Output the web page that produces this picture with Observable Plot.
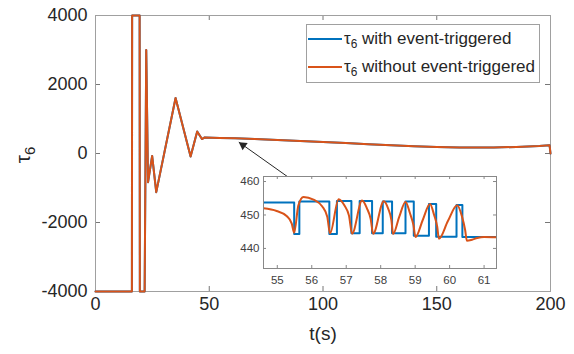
<!DOCTYPE html>
<html><head><meta charset="utf-8">
<script src="https://cdn.jsdelivr.net/npm/d3@7"></script>
<script src="https://cdn.jsdelivr.net/npm/@observablehq/plot@0.6"></script>
<style>
body{margin:0;background:#fff;}
#wrap{position:relative;width:574px;height:354px;font-family:"Liberation Sans",Arial,sans-serif;color:#262626;}
#wrap svg{position:absolute;left:0;top:0;}
.leg sub{font-size:70%;vertical-align:-0.35em;line-height:0;}
#legend{position:absolute;left:306px;top:24px;width:234px;height:59px;border:1px solid #a0a0a0;background:#fff;box-sizing:border-box;}
.leg{position:absolute;left:1px;height:20px;font-size:17px;white-space:nowrap;display:flex;align-items:center;}
.leg .sw{display:inline-block;width:34px;height:2px;margin-right:2px;}
</style></head><body><div id="wrap"><div id="legend"></div></div>
<script>
// Main plot (coarse) series: time (s) and tau6
const mainT = [0, 16.0, 16.1, 19.4, 19.5, 21.6, 22.3, 23.1, 24.9, 26.7, 35.2, 41.8, 44.7, 46.8, 48.0, 54.6, 61.4, 70, 80, 90, 100, 110, 120, 130, 140, 150, 160, 166, 175, 185, 195, 199.6, 200];
const mainV = [-4000, -4000, 4000, 4000, -4000, -4000, 3000, -830, -70, -1120, 1610, -90, 640, 420, 465, 452, 443, 418, 392, 363, 333, 302, 270, 240, 212, 192, 176, 172, 175, 190, 215, 238, 0];

// Inset: event-triggered (blue, held values)
const blueT = [54.6, 55.49, 55.64, 56.51, 56.73, 57.15, 57.39, 57.75, 58.06, 58.33, 58.72, 58.96, 59.40, 59.61, 60.20, 60.37, 61.36];
const blueV = [453.7, 444.3, 454.0, 444.3, 454.2, 444.5, 454.2, 444.5, 454.0, 444.5, 454.0, 443.8, 453.3, 443.5, 453.0, 443.4, 443.4];

// Inset: without event-triggered (orange)
const orangeT = [54.6, 54.98, 55.27, 55.42, 55.49, 55.61, 55.76, 56.05, 56.30, 56.45, 56.53, 56.78, 56.95, 57.08, 57.17, 57.46, 57.60, 57.71, 57.78, 58.09, 58.22, 58.31, 58.36, 58.54, 58.72, 58.85, 58.95, 59.01, 59.22, 59.43, 59.55, 59.64, 59.69, 59.95, 60.22, 60.36, 60.45, 60.50, 60.65, 60.80, 61.0, 61.36];
const orangeV = [452.0, 451.2, 449.7, 447.4, 444.7, 452.8, 455.4, 454.6, 452.6, 449.5, 444.5, 454.7, 452.8, 449.8, 444.4, 454.3, 452.0, 448.8, 444.4, 454.1, 451.8, 448.5, 444.3, 449.5, 453.9, 450.5, 447.0, 443.4, 448.5, 453.3, 450.0, 446.5, 442.9, 448.2, 452.9, 449.5, 445.5, 442.3, 442.6, 443.1, 443.4, 443.3];

const xTicks = [0, 50, 100, 150, 200];
const yTicks = [-4000, -2000, 0, 2000, 4000];
const insetXTicks = [55, 56, 57, 58, 59, 60, 61];
const insetYTicks = [440, 450, 460];
const seriesNames = ["with event-triggered", "without event-triggered"];
const seriesColors = ["#0072BD", "#D95319"];
// annotation arrow: from inset to curve (t, tau6)
const arrowData = [{x1: 84.6, y1: -680, x2: 63.0, y2: 330}];

const mainData = mainT.map((t, i) => ({t, v: mainV[i]}));
const blueData = blueT.map((t, i) => ({t, v: blueV[i]}));
const orangeData = orangeT.map((t, i) => ({t, v: orangeV[i]}));

const frameColor = "#a0a0a0";
const W = 574, H = 354, mL = 95, mR = 24, mT = 15, mB = 63;
const pw = W - mL - mR, ph = H - mT - mB;

const main = Plot.plot({
  width: W, height: H, marginLeft: mL, marginRight: mR, marginTop: mT, marginBottom: mB,
  style: {background: "none", fontFamily: "'Liberation Sans', Arial, sans-serif", fontSize: "18px", color: "#262626", overflow: "visible"},
  x: {domain: [0, 200]},
  y: {domain: [-4000, 4000]},
  marks: [
    Plot.axisX({ticks: xTicks, tickSize: 0, tickPadding: 6, label: null, tickFormat: d => String(d)}),
    Plot.axisY({ticks: yTicks, tickSize: 0, tickPadding: 8, label: null, tickFormat: d => String(d)}),
    Plot.ruleX(xTicks, {stroke: "#777", insetTop: ph - 5}),
    Plot.ruleX(xTicks, {stroke: "#777", insetBottom: ph - 5}),
    Plot.ruleY(yTicks, {stroke: "#777", insetRight: pw - 5}),
    Plot.ruleY(yTicks, {stroke: "#777", insetLeft: pw - 5}),
    Plot.frame({stroke: frameColor}),
    Plot.line(mainData, {x: "t", y: "v", stroke: seriesColors[0], strokeWidth: 2}),
    Plot.line(mainData, {x: "t", y: "v", stroke: seriesColors[1], strokeWidth: 2}),
    Plot.link(arrowData, {x1: "x1", y1: "y1", x2: "x2", y2: "y2", stroke: "#262626", strokeWidth: 1}),
    Plot.dot(arrowData, {x: "x2", y: "y2", symbol: "triangle", r: 3.3, fill: "#262626", stroke: null, rotate: -55, dx: 4.2, dy: 3.0}),
    Plot.text(["t(s)"], {frameAnchor: "bottom", dy: 48, fontSize: 19, fill: "#262626"})
  ]
});

// rotated y label with subscript
const ylab = d3.select(main).append("text")
  .attr("transform", "translate(30,155) rotate(-90)")
  .attr("text-anchor", "middle")
  .attr("fill", "#262626")
  .attr("font-size", 21);
ylab.append("tspan").text("τ");
ylab.append("tspan").attr("font-size", 15).attr("dy", 5).text("6");

const iw = 233, ih = 92, imL = 30, imR = 8, imT = 6, imB = 22;
const inset = Plot.plot({
  width: iw + imL + imR, height: ih + imT + imB,
  marginLeft: imL, marginRight: imR, marginTop: imT, marginBottom: imB,
  style: {background: "none", fontFamily: "'Liberation Sans', Arial, sans-serif", fontSize: "11.5px", color: "#404040", overflow: "visible"},
  x: {domain: [54.6, 61.36]},
  y: {domain: [434, 461.5]},
  marks: [
    Plot.frame({fill: "white", stroke: null}),
    Plot.axisX({ticks: insetXTicks, tickSize: 0, tickPadding: 7, label: null, tickFormat: d => String(d)}),
    Plot.axisY({ticks: insetYTicks, tickSize: 0, tickPadding: 4, label: null, tickFormat: d => String(d)}),
    Plot.ruleX(insetXTicks, {stroke: "#888", insetTop: ih - 3}),
    Plot.ruleX(insetXTicks, {stroke: "#888", insetBottom: ih - 3}),
    Plot.ruleY(insetYTicks, {stroke: "#888", insetRight: iw - 3}),
    Plot.ruleY(insetYTicks, {stroke: "#888", insetLeft: iw - 3}),
    Plot.line(blueData, {x: "t", y: "v", stroke: seriesColors[0], strokeWidth: 2, curve: "step-after", clip: true}),
    Plot.line(orangeData, {x: "t", y: "v", stroke: seriesColors[1], strokeWidth: 2, curve: "monotone-x", clip: true}),
    Plot.frame({stroke: "#888"})
  ]
});
inset.style.left = (263 - imL) + "px";
inset.style.top = (176 - imT) + "px";

const wrap = document.getElementById("wrap");
wrap.insertBefore(main, wrap.firstChild);
wrap.insertBefore(inset, document.getElementById("legend"));

const legend = document.getElementById("legend");
seriesNames.forEach((name, i) => {
  const row = document.createElement("div");
  row.className = "leg";
  row.style.top = (i === 0 ? 4 : 32) + "px";
  const sw = document.createElement("span");
  sw.className = "sw";
  sw.style.background = seriesColors[i];
  const txt = document.createElement("span");
  txt.innerHTML = "&tau;<sub>6</sub> " + name;
  row.appendChild(sw);
  row.appendChild(txt);
  legend.appendChild(row);
});
</script></body></html>
